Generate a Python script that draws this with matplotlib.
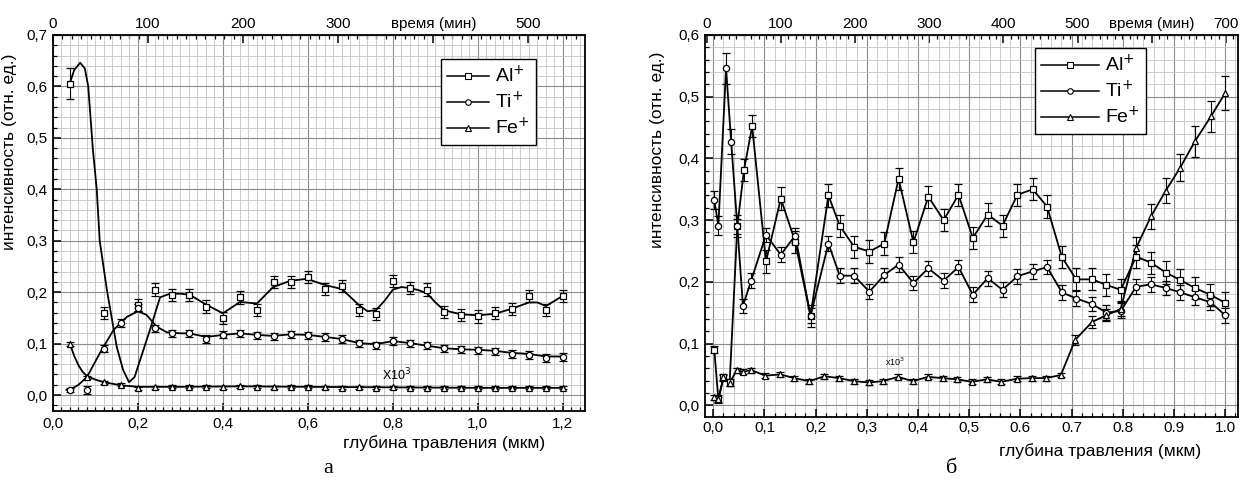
import matplotlib
matplotlib.use("Agg")
import matplotlib.pyplot as plt
from matplotlib.ticker import MultipleLocator, FuncFormatter, FixedLocator

plt.rcParams["font.family"] = ["Liberation Sans", "DejaVu Sans"]

# ---------- panel а ----------
# measured points (depth, intensity, error)
al_a_x = [0.04, 0.12, 0.20, 0.24, 0.28, 0.32, 0.36, 0.40, 0.44, 0.48, 0.52, 0.56, 0.60, 0.64,
          0.68, 0.72, 0.76, 0.80, 0.84, 0.88, 0.92, 0.96, 1.00, 1.04, 1.08, 1.12, 1.16, 1.20]
al_a_y = [0.605, 0.16, 0.175, 0.205, 0.195, 0.195, 0.172, 0.15, 0.19, 0.165, 0.22, 0.22, 0.23,
          0.206, 0.212, 0.165, 0.157, 0.222, 0.208, 0.205, 0.161, 0.156, 0.153, 0.159, 0.167,
          0.193, 0.165, 0.193]
al_a_err = [0.03] + [0.012] * 27

ti_a_x = [0.04, 0.08, 0.12, 0.16, 0.20, 0.24, 0.28, 0.32, 0.36, 0.40, 0.44, 0.48, 0.52, 0.56, 0.60,
          0.64, 0.68, 0.72, 0.76, 0.80, 0.84, 0.88, 0.92, 0.96, 1.00, 1.04, 1.08, 1.12, 1.16, 1.20]
ti_a_y = [0.01, 0.01, 0.09, 0.14, 0.17, 0.13, 0.12, 0.12, 0.109, 0.117, 0.12, 0.116, 0.114, 0.118,
          0.116, 0.113, 0.109, 0.101, 0.097, 0.105, 0.101, 0.097, 0.091, 0.089, 0.087, 0.085,
          0.08, 0.078, 0.072, 0.074]
ti_a_err = [0.004, 0.008] + [0.007] * 28

fe_a_x = ti_a_x
fe_a_y = [0.1, 0.035, 0.025, 0.02, 0.013, 0.015, 0.016, 0.016, 0.016, 0.015, 0.017, 0.016, 0.015,
          0.016, 0.016, 0.015, 0.014, 0.015, 0.014, 0.015, 0.014, 0.014, 0.014, 0.014, 0.014,
          0.014, 0.014, 0.014, 0.014, 0.014]
fe_a_err = [0.004] + [0.003] * 29

# fitted curves as drawn on the picture
al_a_cx = [0.04, 0.05, 0.064, 0.075, 0.083, 0.094, 0.103, 0.11, 0.127, 0.15, 0.165, 0.179, 0.192,
           0.205, 0.228, 0.252, 0.275, 0.30, 0.322, 0.362, 0.40, 0.44, 0.48, 0.518, 0.558, 0.597,
           0.64, 0.68, 0.72, 0.74, 0.76, 0.78, 0.80, 0.82, 0.84, 0.86, 0.88, 0.90, 0.92, 0.96,
           1.00, 1.04, 1.08, 1.12, 1.14, 1.16, 1.20]
al_a_cy = [0.607, 0.632, 0.646, 0.635, 0.6, 0.477, 0.4, 0.3, 0.204, 0.094, 0.049, 0.025, 0.035,
           0.068, 0.126, 0.19, 0.197, 0.197, 0.195, 0.175, 0.159, 0.181, 0.178, 0.21, 0.222,
           0.226, 0.214, 0.206, 0.175, 0.163, 0.165, 0.183, 0.205, 0.21, 0.208, 0.204, 0.198,
           0.18, 0.165, 0.157, 0.155, 0.158, 0.168, 0.18, 0.18, 0.173, 0.193]
ti_a_cx = [0.032, 0.042, 0.06, 0.08, 0.11, 0.142, 0.174, 0.2, 0.22, 0.244, 0.268, 0.30, 0.32,
           0.362, 0.40, 0.44, 0.48, 0.518, 0.558, 0.60, 0.64, 0.68, 0.72, 0.76, 0.80, 0.84, 0.88,
           0.92, 0.96, 1.0, 1.04, 1.08, 1.12, 1.16, 1.2]
ti_a_cy = [0.01, 0.011, 0.02, 0.035, 0.081, 0.126, 0.152, 0.163, 0.156, 0.133, 0.122, 0.12, 0.12,
           0.113, 0.117, 0.12, 0.117, 0.115, 0.118, 0.117, 0.113, 0.109, 0.101, 0.099, 0.105,
           0.101, 0.096, 0.091, 0.089, 0.088, 0.086, 0.082, 0.08, 0.075, 0.075]
fe_a_cx = [0.04, 0.05, 0.06, 0.07, 0.08, 0.10, 0.12, 0.16, 0.20, 0.30, 0.44, 0.60, 0.80, 1.00, 1.20]
fe_a_cy = [0.1, 0.076, 0.058, 0.045, 0.037, 0.03, 0.025, 0.019, 0.016, 0.016, 0.017, 0.016,
           0.015, 0.014, 0.014]

# ---------- panel б ----------
al_b_x = [0.002, 0.01, 0.02, 0.032, 0.047, 0.06, 0.076, 0.103, 0.132, 0.16, 0.19, 0.225, 0.247,
          0.275, 0.305, 0.334, 0.362, 0.391, 0.42, 0.45, 0.479, 0.507, 0.536, 0.565, 0.594,
          0.624, 0.652, 0.681, 0.709, 0.74, 0.768, 0.796, 0.826, 0.855, 0.884, 0.912, 0.941,
          0.971, 1.0]
al_b_y = [0.09, 0.01, 0.045, 0.037, 0.29, 0.381, 0.452, 0.233, 0.335, 0.265, 0.145, 0.34, 0.291,
          0.257, 0.249, 0.262, 0.367, 0.264, 0.338, 0.30, 0.341, 0.271, 0.309, 0.291, 0.341,
          0.35, 0.322, 0.24, 0.204, 0.204, 0.195, 0.187, 0.241, 0.231, 0.215, 0.203, 0.19,
          0.179, 0.166]
al_b_err = [0.006, 0.006, 0.005, 0.005] + [0.018] * 35

ti_b_x = [0.002, 0.01, 0.025, 0.035, 0.047, 0.058, 0.074, 0.103, 0.132, 0.16, 0.19, 0.225, 0.247,
          0.275, 0.305, 0.334, 0.362, 0.391, 0.42, 0.45, 0.479, 0.507, 0.536, 0.565, 0.594,
          0.624, 0.652, 0.681, 0.709, 0.74, 0.768, 0.796, 0.826, 0.855, 0.884, 0.912, 0.941,
          0.971, 1.0]
ti_b_y = [0.333, 0.291, 0.546, 0.427, 0.29, 0.161, 0.202, 0.276, 0.244, 0.275, 0.145, 0.262, 0.21,
          0.21, 0.184, 0.211, 0.228, 0.198, 0.222, 0.202, 0.224, 0.179, 0.206, 0.187, 0.209,
          0.217, 0.224, 0.183, 0.173, 0.164, 0.15, 0.153, 0.192, 0.196, 0.19, 0.183, 0.175,
          0.167, 0.146]
ti_b_err = [0.015, 0.015, 0.025, 0.02] + [0.012] * 35

fe_b_x = [0.002, 0.01, 0.02, 0.032, 0.046, 0.059, 0.074, 0.102, 0.131, 0.158, 0.188, 0.217, 0.246,
          0.275, 0.304, 0.331, 0.361, 0.39, 0.419, 0.448, 0.477, 0.505, 0.534, 0.563, 0.593,
          0.622, 0.65, 0.679, 0.707, 0.74, 0.768, 0.796, 0.826, 0.855, 0.884, 0.912, 0.941,
          0.972, 1.0]
fe_b_y = [0.013, 0.01, 0.045, 0.036, 0.057, 0.054, 0.057, 0.048, 0.05, 0.044, 0.039, 0.047, 0.044,
          0.039, 0.037, 0.039, 0.046, 0.039, 0.046, 0.044, 0.042, 0.038, 0.042, 0.038, 0.043,
          0.044, 0.044, 0.049, 0.106, 0.135, 0.146, 0.156, 0.255, 0.306, 0.348, 0.385, 0.428,
          0.468, 0.506]
fe_b_err = [0.004] * 28 + [0.008, 0.01, 0.01, 0.012, 0.018, 0.02, 0.02, 0.022, 0.025, 0.025, 0.027]

# labels
lab_y = "интенсивность (отн. ед.)"
lab_x = "глубина травления (мкм)"
lab_t = "время (мин)"
names = ["Al$^{+}$", "Ti$^{+}$", "Fe$^{+}$"]
marks = ["s", "o", "^"]

fig = plt.figure(figsize=(12.49, 4.86), dpi=100)
ax1 = fig.add_axes([0.0424, 0.1543, 0.426, 0.7737])
ax2 = fig.add_axes([0.5645, 0.142, 0.4267, 0.786])

comma = FuncFormatter(lambda v, p: f"{v:.1f}".replace(".", ","))
TS = 11


def style(ax):
    ax.xaxis.set_minor_locator(MultipleLocator(0.02))
    ax.yaxis.set_major_locator(MultipleLocator(0.1))
    ax.yaxis.set_minor_locator(MultipleLocator(0.02))
    ax.yaxis.set_major_formatter(comma)
    ax.grid(which="major", color="#8a8a8a", lw=0.8)
    ax.grid(which="minor", color="#c4c4c4", lw=0.6)
    ax.set_axisbelow(True)
    ax.tick_params(which="both", direction="in", top=False, right=False, labelsize=TS)
    ax.tick_params(which="major", length=6, width=1.1, pad=4)
    ax.tick_params(which="minor", length=3, width=0.9)
    for s in ax.spines.values():
        s.set_linewidth(1.3)


def top_style(sec):
    sec.xaxis.set_minor_locator(MultipleLocator(10))
    sec.tick_params(which="both", direction="in", labelsize=TS)
    sec.tick_params(which="major", length=6, width=1.1, pad=3)
    sec.tick_params(which="minor", length=3, width=0.9)


def pts(ax, x, y, e, m):
    ax.errorbar(x, y, yerr=e, fmt=m, ms=4.5, mfc="white", mec="black", mew=0.9,
                ecolor="black", elinewidth=0.8, capsize=3, capthick=0.8, zorder=4)


# ---- left
style(ax1)
ax1.set_xlim(0, 1.252)
ax1.set_ylim(-0.031, 0.7)
ax1.xaxis.set_major_locator(MultipleLocator(0.2))
ax1.xaxis.set_major_formatter(comma)
ax1.plot(al_a_cx, al_a_cy, color="black", lw=1.3, zorder=3)
ax1.plot(ti_a_cx, ti_a_cy, color="black", lw=1.3, zorder=3)
ax1.plot(fe_a_cx, fe_a_cy, color="black", lw=1.3, zorder=3)
pts(ax1, al_a_x, al_a_y, al_a_err, "s")
pts(ax1, ti_a_x, ti_a_y, ti_a_err, "o")
pts(ax1, fe_a_x, fe_a_y, fe_a_err, "^")
ax1.text(0.775, 0.028, "X10$^3$", fontsize=9)
ax1.set_ylabel(lab_y, fontsize=12.5)
ax1.yaxis.set_label_coords(-0.068, 0.69)

top1 = ax1.secondary_xaxis("top", functions=(lambda d: d * 447.0, lambda t: t / 447.0))
top1.xaxis.set_major_locator(FixedLocator([0, 100, 200, 300, 400, 500]))
top1.set_xticklabels(["0", "100", "200", "300", lab_t, "500"])
top_style(top1)

# ---- right
style(ax2)
ax2.set_xlim(-0.016, 1.025)
ax2.set_ylim(-0.019, 0.6)
ax2.xaxis.set_major_locator(FixedLocator([0, 0.1, 0.2, 0.3, 0.4, 0.5, 0.6, 0.7, 0.8, 0.9, 1.0]))
ax2.set_xticklabels(["0,0", "0,1", "0,2", "0,3", "0,4", "0,5", "0.6", "0.7", "0.8", "0.9", "1.0"])
ax2.tick_params(axis="x", pad=3)
ax2.plot(al_b_x, al_b_y, color="black", lw=1.3, zorder=3)
ax2.plot(ti_b_x, ti_b_y, color="black", lw=1.3, zorder=3)
ax2.plot(fe_b_x, fe_b_y, color="black", lw=1.3, zorder=3)
pts(ax2, al_b_x, al_b_y, al_b_err, "s")
pts(ax2, ti_b_x, ti_b_y, ti_b_err, "o")
pts(ax2, fe_b_x, fe_b_y, fe_b_err, "^")
ax2.text(0.335, 0.064, "x10$^3$", fontsize=6.5)
ax2.set_ylabel(lab_y, fontsize=12.5)
ax2.yaxis.set_label_coords(-0.076, 0.70)

top2 = ax2.secondary_xaxis("top", functions=(lambda d: (d + 0.013) * 690.0,
                                             lambda t: t / 690.0 - 0.013))
top2.xaxis.set_major_locator(FixedLocator([0, 100, 200, 300, 400, 500, 600, 700]))
top2.set_xticklabels(["0", "100", "200", "300", "400", "500", lab_t, "700"])
top_style(top2)

# legends
for ax, anchor, hl in [(ax1, (0.729, 0.935), 2.2), (ax2, (0.619, 0.965), 3.0)]:
    handles = [plt.Line2D([], [], color="black", lw=1.1, marker=m, ms=4, mfc="white",
                          mec="black", mew=0.8) for m in marks]
    lg = ax.legend(handles, names, loc="upper left", bbox_to_anchor=anchor, fontsize=14,
                   frameon=True, fancybox=False, framealpha=1, edgecolor="black",
                   handlelength=hl, handletextpad=0.3, labelspacing=0.25, borderpad=0.3,
                   borderaxespad=0)
    lg.get_frame().set_linewidth(1.0)
    lg.set_zorder(6)

fig.text(0.3555, 0.088, lab_x, ha="center", va="center", fontsize=12.5)
fig.text(0.8807, 0.072, lab_x, ha="center", va="center", fontsize=12.5)
fig.text(0.2626, 0.037, "а", ha="center", va="center", fontsize=16, family="Liberation Serif")
fig.text(0.762, 0.037, "б", ha="center", va="center", fontsize=16, family="Liberation Serif")

fig.savefig("out.png", dpi=100)
